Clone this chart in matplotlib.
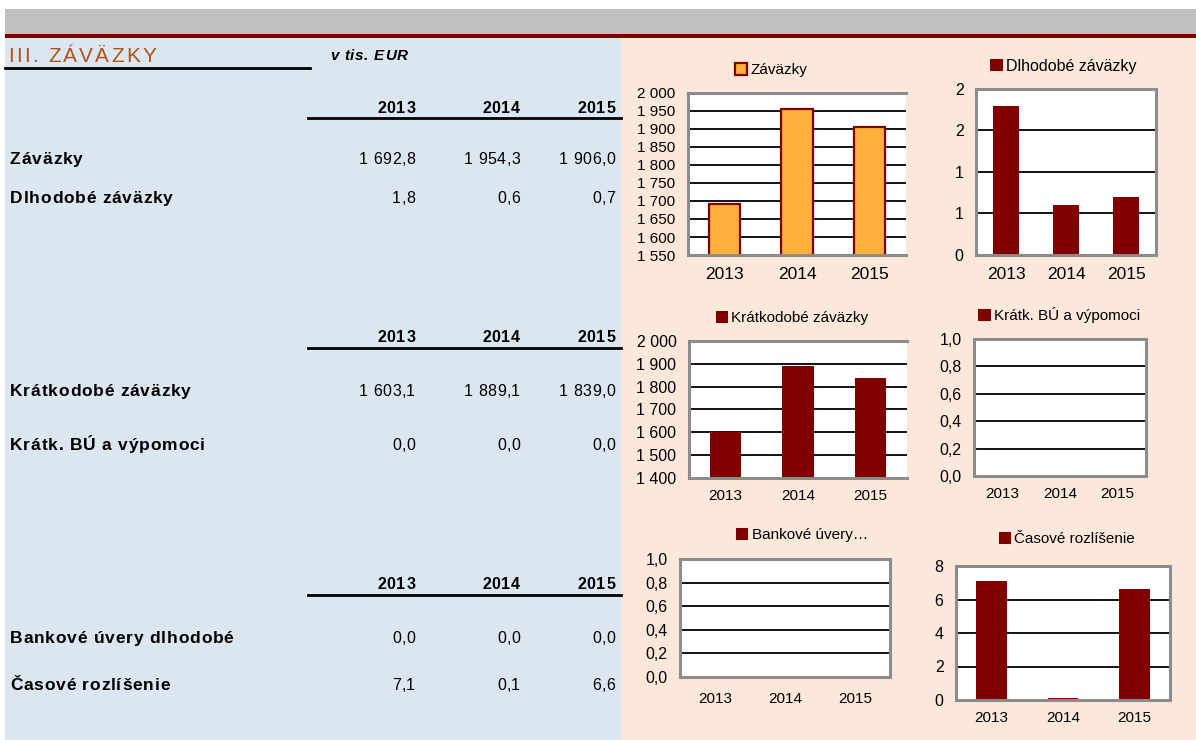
import math
import matplotlib
matplotlib.use('Agg')
from matplotlib import pyplot as plt
from matplotlib import ft2font
from matplotlib.patches import Rectangle
from matplotlib.font_manager import FontProperties, findfont, get_font
from matplotlib.ticker import FuncFormatter, MultipleLocator

plt.rcParams['font.family'] = ['Liberation Sans', 'DejaVu Sans']

# data (v tis. EUR)
years = ['2013', '2014', '2015']
zavazky = [1692.8, 1954.3, 1906.0]
dlhodobe = [1.8, 0.6, 0.7]
kratkodobe = [1603.1, 1889.1, 1839.0]
kratk_bu = [0.0, 0.0, 0.0]
bankove = [0.0, 0.0, 0.0]
casove = [7.1, 0.1, 6.6]

W, H = 1196, 740
DPI = 100
DARK_RED = '#800000'
ORANGE = '#FFB03B'
FRAME = '#8C8C8C'

fig = plt.figure(figsize=(W / DPI, H / DPI), dpi=DPI)

if hasattr(ft2font, 'LoadFlags'):
    NO_HINT = ft2font.LoadFlags.NO_HINTING
else:
    NO_HINT = ft2font.LOAD_NO_HINTING


def rect(x0, y0, x1, y1, color):
    fig.add_artist(Rectangle((x0 / W, 1 - y1 / H), (x1 - x0) / W, (y1 - y0) / H,
                             transform=fig.transFigure, color=color, lw=0, zorder=0))


def hline(x0, x1, y, lw=2.0, color='black'):
    fig.add_artist(plt.Line2D([x0 / W, x1 / W], [1 - y / H, 1 - y / H],
                              transform=fig.transFigure, color=color, lw=lw))


def advances(s, fp):
    font = get_font(findfont(fp))
    font.set_size(fp.get_size_in_points(), DPI)
    out = []
    for c in s:
        g = font.load_char(ord(c), flags=NO_HINT)
        out.append(g.linearHoriAdvance / 65536)
    return out


def tracked(x, y, s, size, track=1.0, weight='normal', style='normal',
            ha='left', color='black'):
    # excel-like letter spacing; y is the vertical centre of capitals (pixels)
    fp = FontProperties(family='Liberation Sans', size=size, weight=weight, style=style)
    widths = advances(s, fp)
    total = sum(widths) + track * (len(s) - 1)
    cx = x if ha == 'left' else x - total
    base = y + 0.36 * size * DPI / 72
    for c, w in zip(s, widths):
        if c != ' ':
            fig.text(cx / W, 1 - base / H, c, fontproperties=fp, va='baseline',
                     ha='left', color=color)
        cx += w + track


def fmt_num(v, dec=1):
    s = f'{v:,.{dec}f}'
    return s.replace(',', ' ').replace('.', ',')


# backgrounds
rect(5, 9, W, 34, '#C0C0C0')
rect(5, 34, W, 38, DARK_RED)
rect(5, 38, 621, H, '#DCE6F0')
rect(621, 38, W, H, '#FBE8DA')

# left table
tracked(8, 54, 'III. ZÁVÄZKY', 15, track=2.2, color='#B0541E')
hline(5, 310, 68)
tracked(330, 55, 'v tis. EUR', 11, track=0.7, weight='bold', style='italic')

col_x = [415, 520, 615]
blocks = [
    (107, 118, [('Záväzky', zavazky, 158), ('Dlhodobé záväzky', dlhodobe, 197)]),
    (336, 348, [('Krátkodobé záväzky', kratkodobe, 390), ('Krátk. BÚ a výpomoci', kratk_bu, 444)]),
    (583, 595, [('Bankové úvery dlhodobé', bankove, 637), ('Časové rozlíšenie', casove, 684)]),
]
for hy, ly, rows in blocks:
    for x, yr in zip(col_x, years):
        tracked(x, hy, yr, 11.5, track=0.8, weight='bold', ha='right')
    hline(308, 621, ly)
    for label, vals, ry in rows:
        tracked(10, ry, label, 12.5, track=0.8, weight='bold')
        for x, v in zip(col_x, vals):
            tracked(x, ry, fmt_num(v), 11.5, track=0.4, ha='right')


def chart(box, values, ymin, ymax, step, yfmt, label, leg_xy, face=DARK_RED, edge=None,
          right=True, xfs=11, yfs=11, lfs=11, xpad=8):
    x0, y0, x1, y1 = box
    ax = fig.add_axes([x0 / W, 1 - y1 / H, (x1 - x0) / W, (y1 - y0) / H])
    ax.set_facecolor('white')
    bars = ax.bar(range(len(values)), values, width=0.43, color=face,
                  edgecolor=edge if edge else face, linewidth=1.6 if edge else 0,
                  label=label, zorder=3)
    ax.set_xlim(-0.5, len(values) - 0.5)
    ax.set_ylim(ymin, ymax)
    ax.yaxis.set_major_locator(MultipleLocator(step))
    ax.yaxis.set_major_formatter(FuncFormatter(yfmt))
    ax.set_xticks(range(len(values)))
    ax.set_xticklabels(years)
    ax.tick_params(length=0, colors='black')
    ax.tick_params(axis='y', pad=9, labelsize=yfs)
    ax.tick_params(axis='x', pad=xpad, labelsize=xfs)
    ax.grid(axis='y', color='black', lw=1.3, zorder=1)
    for side in ['left', 'top', 'bottom', 'right']:
        ax.spines[side].set_color(FRAME)
        ax.spines[side].set_linewidth(2.2)
        ax.spines[side].set_zorder(4)
    ax.spines['right'].set_visible(right)
    ax.legend(handles=[bars], loc='center',
              bbox_to_anchor=(leg_xy[0] / W, 1 - leg_xy[1] / H),
              bbox_transform=fig.transFigure, frameon=False, fontsize=lfs,
              handlelength=0.8, handleheight=0.8, handletextpad=0.2,
              borderpad=0, borderaxespad=0)
    return ax


thousands = lambda v, p: fmt_num(v, 0)
half_up = lambda v, p: str(int(math.floor(v + 0.5)))
one_dec = lambda v, p: fmt_num(v, 1)

chart((688, 93, 906, 255), zavazky, 1550, 2000, 50, thousands, 'Záväzky', (771, 70),
      face=ORANGE, edge=DARK_RED, right=False, xfs=12.5, yfs=11, xpad=9)
chart((976, 89, 1156, 255), dlhodobe, 0, 2, 0.5, half_up, 'Dlhodobé záväzky', (1063, 66),
      xfs=12.5, yfs=11.5, lfs=11.5, xpad=9)
chart((689, 341, 907, 478), kratkodobe, 1400, 2000, 100, thousands, 'Krátkodobé záväzky',
      (792, 318), right=False, yfs=11.5, xpad=8)
chart((974, 339, 1146, 476), kratk_bu, 0, 1, 0.2, one_dec, 'Krátk. BÚ a výpomoci',
      (1059, 315), yfs=11.5, xpad=8)
chart((680, 559, 890, 677), bankove, 0, 1, 0.2, one_dec, 'Bankové úvery…',
      (802, 535), yfs=11.5, xpad=11)
chart((956, 566, 1170, 700), casove, 0, 8, 2, half_up, 'Časové rozlíšenie',
      (1067, 539), yfs=11.5, xpad=8)

fig.savefig('out.png', dpi=DPI)
